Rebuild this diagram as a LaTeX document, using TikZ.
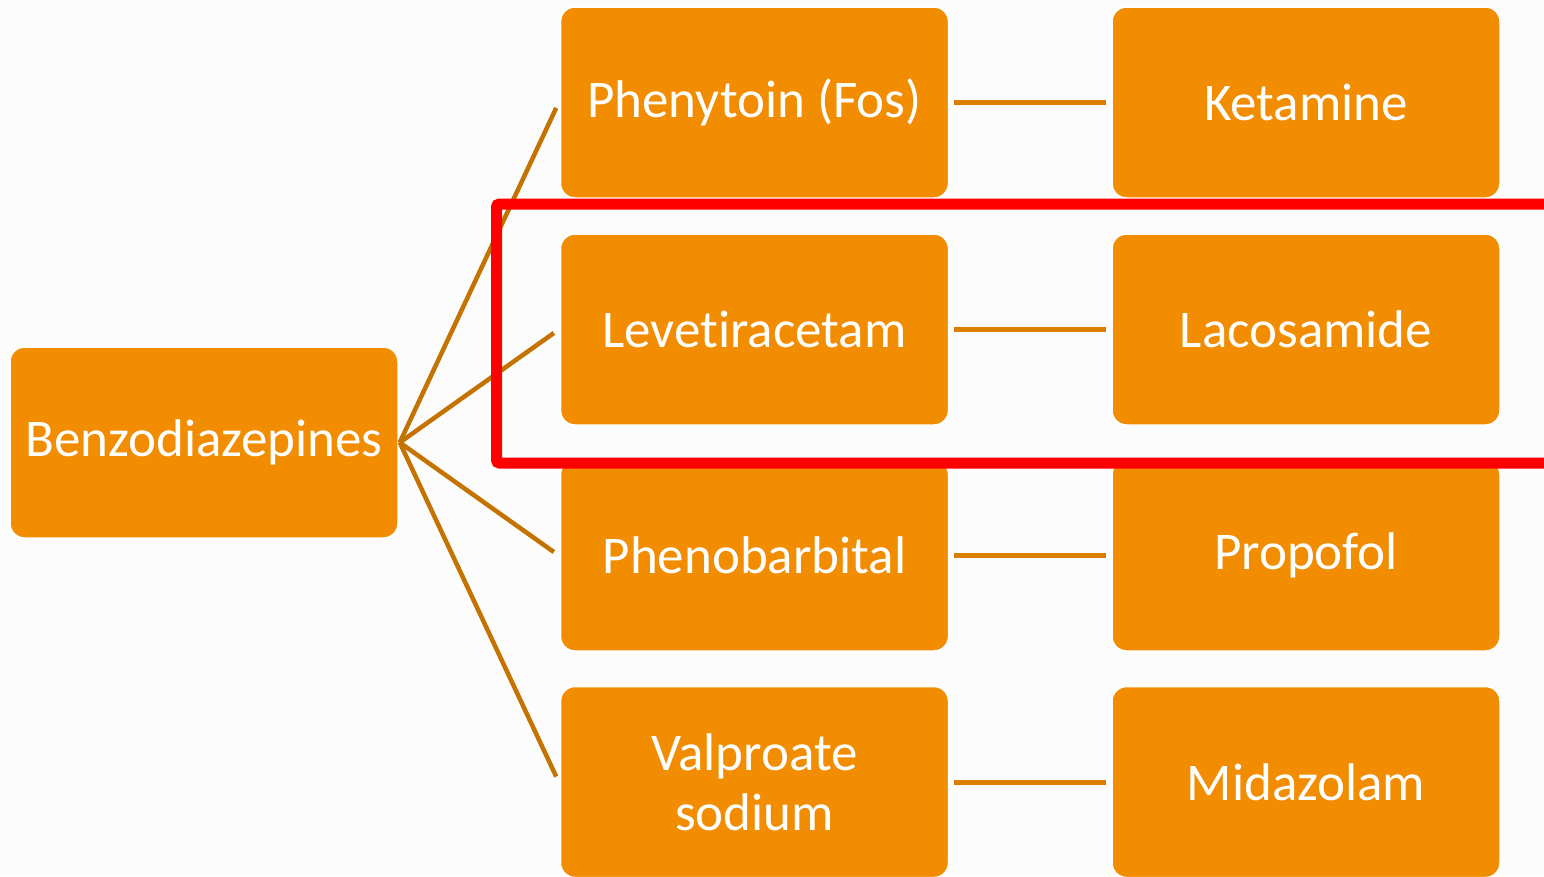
\documentclass[tikz,border=0pt]{standalone}
\usepackage{fontspec}
\setmainfont{Carlito}[RawFeature=-liga]
\definecolor{boxorange}{HTML}{F28C00}
\definecolor{linkdiag}{HTML}{C47300}
\definecolor{linkhoriz}{HTML}{D97E00}
\definecolor{hilite}{HTML}{FF0000}
\begin{document}
\begin{tikzpicture}[x=1pt,y=-1pt,
  drug/.style={draw=white,line width=2.5pt,fill=boxorange,rounded corners=15pt,
    minimum width=389pt,minimum height=192pt,inner sep=0pt,text=white,
    align=center,font=\fontsize{53}{60}\selectfont},
  diag/.style={draw=linkdiag,line width=4.5pt,shorten >=6pt},
  horiz/.style={draw=linkhoriz,line width=5pt,shorten >=4pt,shorten <=4pt}]
\fill[white!99!black] (0,0) rectangle (1544,876);
\useasboundingbox (0,0) rectangle (1544,876);
\node[drug] (benzo) at (204,442.5) {Benzodiazepines};
\node[drug] (phen) at (754.5,102.5) {Phenytoin (Fos)};
\node[drug] (leve) at (754.5,329.5) {Levetiracetam};
\node[drug] (pheno) at (754.5,555.5) {Phenobarbital};
\node[drug] (valp) at (754.5,782) {Valproate\\sodium};
\node[drug] (keta) at (1306,102.5) {Ketamine};
\node[drug] (laco) at (1306,329.5) {Lacosamide};
\node[drug] (prop) at (1306,555.5) {Propofol};
\node[drug] (mida) at (1306,782) {Midazolam};
\draw[diag] (benzo.east) -- (phen.west);
\draw[diag] (benzo.east) -- (leve.west);
\draw[diag] (benzo.east) -- (pheno.west);
\draw[diag] (benzo.east) -- (valp.west);
\draw[horiz] (phen.east) -- (keta.west);
\draw[horiz] (leve.east) -- (laco.west);
\draw[horiz] (pheno.east) -- (prop.west);
\draw[horiz] (valp.east) -- (mida.west);
\coordinate (hlA) at (496.5,204);
\coordinate (hlB) at (1560,463);
\draw[hilite,line width=11pt,rounded corners=3pt] (hlA) rectangle (hlB);
\end{tikzpicture}
\end{document}
